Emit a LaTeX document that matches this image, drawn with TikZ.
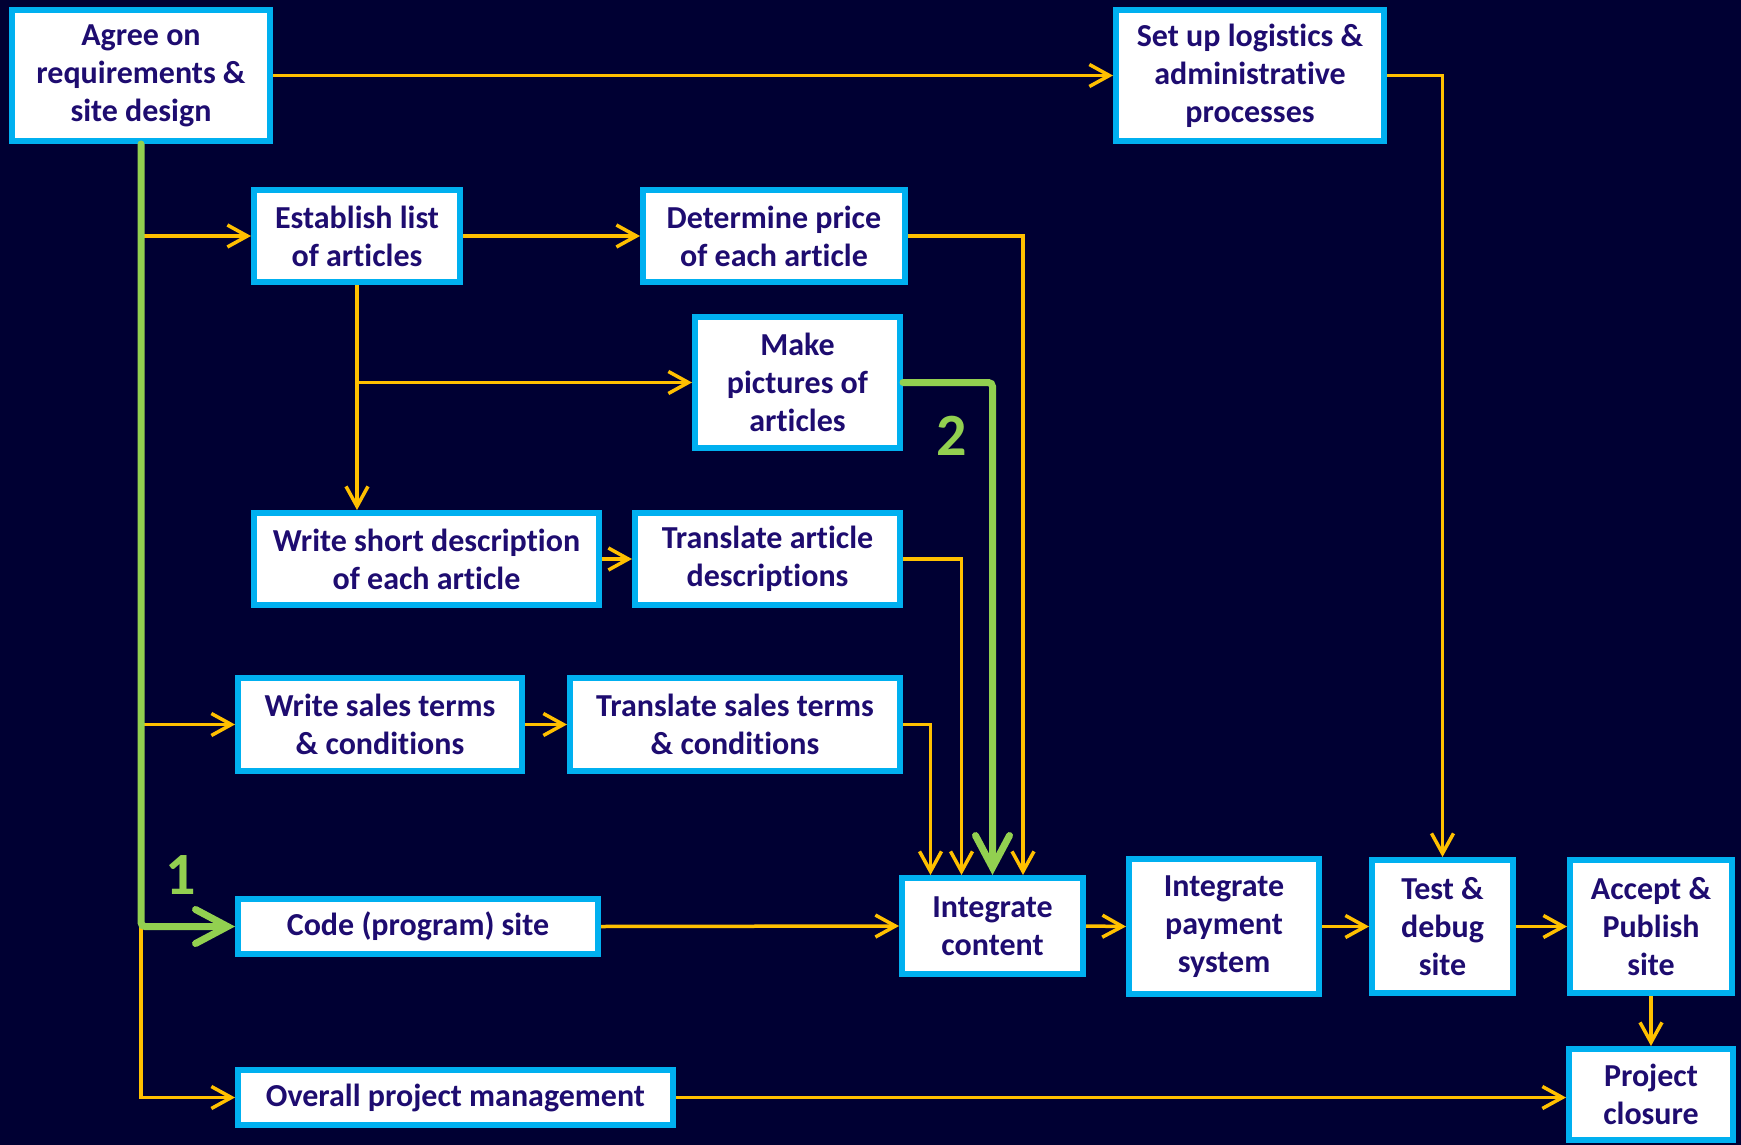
\documentclass[tikz,border=0pt]{standalone}
\usepackage{fontspec}
\setmainfont{Carlito}[Ligatures=NoCommon]
\usetikzlibrary{arrows.meta}
\definecolor{bg}{RGB}{0,0,51}
\definecolor{bd}{RGB}{0,176,240}
\definecolor{tx}{RGB}{30,12,112}
\definecolor{org}{RGB}{255,192,0}
\definecolor{grn}{RGB}{146,208,80}
\begin{document}
\begin{tikzpicture}[x=0.5pt,y=-0.5pt,
  box/.style={draw=bd, fill=white, line width=3pt, align=center, text=tx,
    font=\fontsize{16}{19}\selectfont\bfseries, inner sep=0pt},
  oarr/.style={draw=org, line width=1.75pt, -{Straight Barb[length=10pt,width=11pt]}},
  garr/.style={draw=grn, line width=3.5pt, rounded corners=2pt, line cap=round,
    -{Straight Barb[length=16pt,width=17pt,line cap=round]}},
  lbl/.style={text=grn, font=\fontsize{30}{30}\selectfont\bfseries, inner sep=0pt}]
\useasboundingbox (0,0) rectangle (1741,1145);
\fill[bg] (0,0) rectangle (1741,1145);

\node[box, minimum width=129pt, minimum height=65.5pt] (agree) at (141,75.5) {Agree on\\requirements \&\\site design};
\node[box, minimum width=134pt, minimum height=65.5pt] (setup) at (1250,75.5) {Set up logistics \&\\administrative\\processes};
\node[box, minimum width=103pt, minimum height=46pt] (establish) at (357,236) {Establish list\\of articles};
\node[box, minimum width=131pt, minimum height=46pt] (price) at (774,236) {Determine price\\of each article};
\node[box, minimum width=102.5pt, minimum height=65.5pt] (pictures) at (797.5,382.5) {Make\\pictures of\\articles};
\node[box, minimum width=172.5pt, minimum height=46pt] (writedesc) at (426.5,559) {Write short description\\of each article};
\node[box, minimum width=132.5pt, minimum height=46pt] (transdesc) at (767.5,559) {Translate article\\descriptions};
\node[box, minimum width=142pt, minimum height=46.5pt] (writeterms) at (380,724.5) {Write sales terms\\\& conditions};
\node[box, minimum width=165pt, minimum height=46.5pt] (transterms) at (735,724.5) {Translate sales terms\\\& conditions};
\node[box, minimum width=180pt, minimum height=27.5pt] (code) at (418,926.5) {Code (program) site};
\node[box, minimum width=90.5pt, minimum height=48pt] (content) at (992.5,926) {Integrate\\content};
\node[box, minimum width=95pt, minimum height=67.5pt] (payment) at (1224,926.5) {Integrate\\payment\\system};
\node[box, minimum width=70.5pt, minimum height=66.5pt] (test) at (1442.5,926.5) {Test \&\\debug\\site};
\node[box, minimum width=81pt, minimum height=66.5pt] (accept) at (1651,926.5) {Accept \&\\Publish\\site};
\node[box, minimum width=82pt, minimum height=45.5pt] (closure) at (1651,1094.5) {Project\\closure};
\node[box, minimum width=217.5pt, minimum height=27.5pt] (overall) at (455.5,1097.5) {Overall project management};

% trunk branches
\coordinate (t1) at (agree.south |- establish.west);
\coordinate (t2) at (agree.south |- writeterms.west);
\coordinate (t3) at (agree.south |- code.west);
\draw[oarr] (t1) -- (establish.west);
\draw[oarr] (t2) -- (writeterms.west);
\draw[oarr] (t3) |- (overall.west);

\draw[oarr] (agree.east) -- (setup.west);
\draw[oarr] (setup.east) -| (test.north);
\draw[oarr] (establish.east) -- (price.west);
\draw[oarr] (establish.south) -- (establish.south |- writedesc.north);
\coordinate (e1) at (establish.south |- pictures.west);
\draw[oarr] (e1) -- (pictures.west);
\draw[oarr] (writedesc.east) -- (transdesc.west);
\draw[oarr] (writeterms.east) -- (transterms.west);
\draw[oarr] (price.east) -| ([xshift=15.25pt]content.north);
\draw[oarr] (transdesc.east) -| ([xshift=-15.5pt]content.north);
\draw[oarr] (transterms.east) -| ([xshift=-31pt]content.north);
\draw[oarr] (code.east) -- (content.west);
\draw[oarr] (content.east) -- (payment.west);
\draw[oarr] (payment.east) -- (test.west);
\draw[oarr] (test.east) -- (accept.west);
\draw[oarr] (accept.south) -- (closure.north);
\draw[oarr] (overall.east) -- (overall.east -| closure.west);

% critical path
\draw[garr] (agree.south) |- (code.west);
\draw[garr] (pictures.east) -| (content.north);

\node[lbl] (n1) at (181,875) {1};
\node[lbl] (n2) at (951.5,436) {2};
\end{tikzpicture}
\end{document}
